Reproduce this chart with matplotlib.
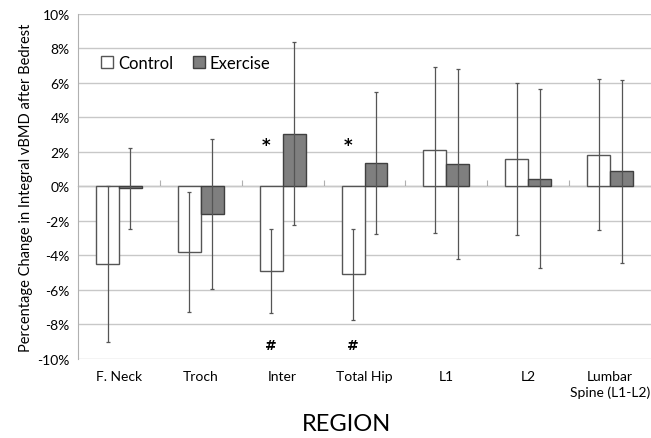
import matplotlib
matplotlib.use("Agg")
import matplotlib.pyplot as plt
import numpy as np

plt.rcParams['font.family'] = ['Lato', 'DejaVu Sans']

# Data (percent change in integral vBMD)
regions = ['F. Neck', 'Troch', 'Inter', 'Total Hip', 'L1', 'L2', 'Lumbar\nSpine (L1-L2)']
control = [-4.5, -3.8, -4.9, -5.1, 2.1, 1.6, 1.85]
control_err = [4.5, 3.45, 2.43, 2.65, 4.8, 4.4, 4.4]
exercise = [-0.1, -1.62, 3.05, 1.37, 1.3, 0.45, 0.87]
exercise_err = [2.35, 4.35, 5.3, 4.1, 5.5, 5.2, 5.3]
star_regions = ['Inter', 'Total Hip']
hash_regions = ['Inter', 'Total Hip']


def main() -> None:
    fig = plt.figure(figsize=(6.51, 4.39), dpi=100)
    ax = fig.add_axes([0.12, 0.18, 0.88, 0.786])

    x = np.arange(len(regions))
    width = 0.28

    ax.bar(x - width / 2, control, width, color='white', edgecolor='#555555',
           linewidth=1.0, label='Control', zorder=3)
    ax.bar(x + width / 2, exercise, width, color='#7f7f7f', edgecolor='#404040',
           linewidth=1.0, label='Exercise', zorder=3)
    ax.errorbar(x - width / 2, control, yerr=control_err, fmt='none', ecolor='#555555',
                elinewidth=0.9, capsize=1.5, capthick=0.9, zorder=4)
    ax.errorbar(x + width / 2, exercise, yerr=exercise_err, fmt='none', ecolor='#555555',
                elinewidth=0.9, capsize=1.5, capthick=0.9, zorder=4)

    # significance markers
    for r in star_regions:
        i = regions.index(r)
        ax.text(i - width / 2 - 0.06, 2.4, '*', ha='center', va='center',
                fontsize=12, fontweight='bold', family='DejaVu Sans', zorder=5)
    for r in hash_regions:
        i = regions.index(r)
        ax.text(i - width / 2, -9.2, '#', ha='center', va='center',
                fontsize=10, fontweight='bold', family='DejaVu Sans', zorder=5)

    ax.set_xlim(-0.5, len(regions) - 0.5)
    ax.set_ylim(-10, 10)
    ax.set_yticks(np.arange(-10, 11, 2))
    ax.set_yticklabels([f'{v}%' for v in range(-10, 11, 2)], fontsize=10)
    ax.yaxis.grid(True, color='#c8c8c8', linewidth=1.0, zorder=0)
    ax.tick_params(axis='y', length=0, pad=6)

    ax.set_xticks(x)
    ax.set_xticklabels(regions, fontsize=10, va='top', linespacing=1.3)
    ax.tick_params(axis='x', length=0, pad=8)

    for side in ['top', 'right', 'bottom']:
        ax.spines[side].set_visible(False)
    ax.spines['left'].set_color('#b0b0b0')

    # category axis crossing at zero, with ticks between categories
    sec = ax.secondary_xaxis(0.5)
    sec.set_xticks(np.arange(len(regions) - 1) + 0.5)
    sec.set_xticklabels([])
    sec.tick_params(axis='x', direction='out', length=4, color='#b0b0b0')
    sec.spines['bottom'].set_color('#b0b0b0')

    ax.set_ylabel('Percentage Change in Integral vBMD after Bedrest', fontsize=10.5, labelpad=3)
    fig.text(347 / 651, 1 - 425 / 439, 'REGION', ha='center', va='center', fontsize=17)

    ax.legend(loc='upper left', bbox_to_anchor=(0.02, 0.915), ncol=2, frameon=False,
              fontsize=12, handlelength=0.7, handleheight=0.7, handletextpad=0.3,
              columnspacing=1.2, borderpad=0.2)

    fig.savefig('out.png', dpi=100)


if __name__ == '__main__':
    main()
